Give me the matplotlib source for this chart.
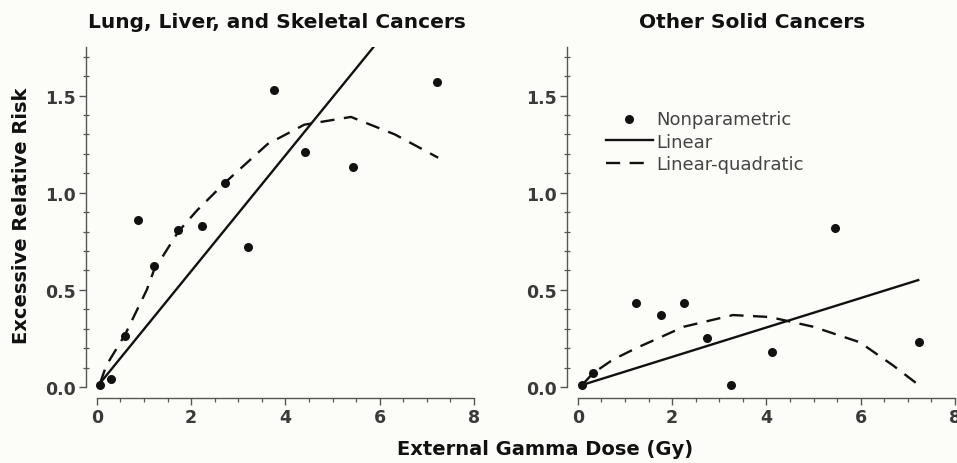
import numpy as np
import matplotlib
matplotlib.use("Agg")
import matplotlib.pyplot as plt
from matplotlib.ticker import MultipleLocator

plt.rcParams["font.family"] = ["DejaVu Sans"]

# ---- Panel A: lung, liver and skeletal cancers ----
lung_dose = [0.07, 0.31, 0.60, 0.87, 1.21, 1.73, 2.22, 2.71, 3.21, 3.75, 4.41, 5.43, 7.21]
lung_err = [0.01, 0.04, 0.26, 0.86, 0.62, 0.81, 0.83, 1.05, 0.72, 1.53, 1.21, 1.13, 1.57]
lung_lin_x = [0.07, 7.21]
lung_lin_y = [0.02, 2.15]
lung_lq_x = [0.07, 0.20, 0.60, 1.06, 1.21, 1.73, 2.13, 2.71, 3.62, 4.40, 5.39, 6.32, 7.24]
lung_lq_y = [0.02, 0.11, 0.27, 0.50, 0.60, 0.80, 0.91, 1.05, 1.25, 1.35, 1.39, 1.30, 1.18]

# ---- Panel B: other solid cancers ----
other_dose = [0.09, 0.32, 1.24, 1.76, 2.25, 2.74, 3.24, 4.12, 5.45, 7.23]
other_err = [0.01, 0.07, 0.43, 0.37, 0.43, 0.25, 0.01, 0.18, 0.82, 0.23]
other_lin_x = [0.09, 7.22]
other_lin_y = [0.01, 0.55]
other_lq_x = [0.09, 0.32, 0.74, 1.24, 2.25, 3.29, 4.07, 4.99, 5.98, 6.69, 7.23]
other_lq_y = [0.01, 0.07, 0.14, 0.20, 0.31, 0.37, 0.36, 0.31, 0.23, 0.11, 0.01]

titles = ["Lung, Liver, and Skeletal Cancers", "Other Solid Cancers"]
legend_labels = ["Nonparametric", "Linear", "Linear-quadratic"]

BG = "#fcfcf8"
INK = "#111111"
TICK = "#3a3a3a"

fig = plt.figure(figsize=(9.57, 4.64), dpi=100, facecolor=BG)
ax_l = fig.add_axes([86 / 957, 65 / 464, 388 / 957, 351 / 464])
ax_r = fig.add_axes([567 / 957, 65 / 464, 388 / 957, 351 / 464])

panels = [
    (ax_l, lung_dose, lung_err, lung_lin_x, lung_lin_y, lung_lq_x, lung_lq_y),
    (ax_r, other_dose, other_err, other_lin_x, other_lin_y, other_lq_x, other_lq_y),
]

for ax, dx, dy, lx, ly, qx, qy in panels:
    ax.set_facecolor(BG)
    pts = ax.scatter(dx, dy, s=30, color=INK, zorder=3, label=legend_labels[0])
    lin, = ax.plot(lx, ly, color=INK, lw=1.7, label=legend_labels[1])
    lq, = ax.plot(qx, qy, color=INK, lw=1.7, dashes=(6, 4), label=legend_labels[2])

    ax.set_xlim(-0.23, 8.0)
    ax.set_ylim(-0.057, 1.75)
    for s in ["top", "right"]:
        ax.spines[s].set_visible(False)
    ax.spines["left"].set_bounds(0, 1.75)
    ax.spines["bottom"].set_bounds(0, 8)
    for s in ["left", "bottom"]:
        ax.spines[s].set_color("#555555")
        ax.spines[s].set_linewidth(1.0)

    ax.xaxis.set_major_locator(MultipleLocator(2))
    ax.xaxis.set_minor_locator(MultipleLocator(0.5))
    ax.yaxis.set_minor_locator(MultipleLocator(0.1))
    ax.set_yticks([0.0, 0.5, 1.0, 1.5])
    ax.set_yticklabels(["0.0", "0.5", "1.0", "1.5"])
    ax.tick_params(axis="both", which="major", length=5, width=1.0, color="#555555",
                   labelsize=12.5, labelcolor=TICK, pad=2)
    ax.tick_params(axis="both", which="minor", length=3, width=0.9, color="#555555")
    ax.tick_params(axis="y", which="minor", direction="inout", length=4)
    for lab in ax.get_xticklabels() + ax.get_yticklabels():
        lab.set_fontweight("bold")

ax_r.legend(handles=[pts, lin, lq], loc="upper left", bbox_to_anchor=(0.10, 0.82),
            frameon=False, fontsize=13, handlelength=2.6, handletextpad=0.2,
            labelspacing=0.25, borderpad=0, borderaxespad=0, labelcolor="#444444")

fig.text(277 / 957, 1 - 22 / 464, titles[0], ha="center", va="center",
         fontsize=14.5, fontweight="bold", color=INK)
fig.text(752 / 957, 1 - 22 / 464, titles[1], ha="center", va="center",
         fontsize=14.5, fontweight="bold", color=INK)
fig.text(22 / 957, 1 - 216 / 464, "Excessive Relative Risk", ha="center", va="center",
         rotation=90, fontsize=14, fontweight="bold", color=INK)
fig.text(545 / 957, 14 / 464, "External Gamma Dose (Gy)", ha="center", va="center",
         fontsize=14, fontweight="bold", color=INK)

fig.savefig("out.png", dpi=100, facecolor=BG)
